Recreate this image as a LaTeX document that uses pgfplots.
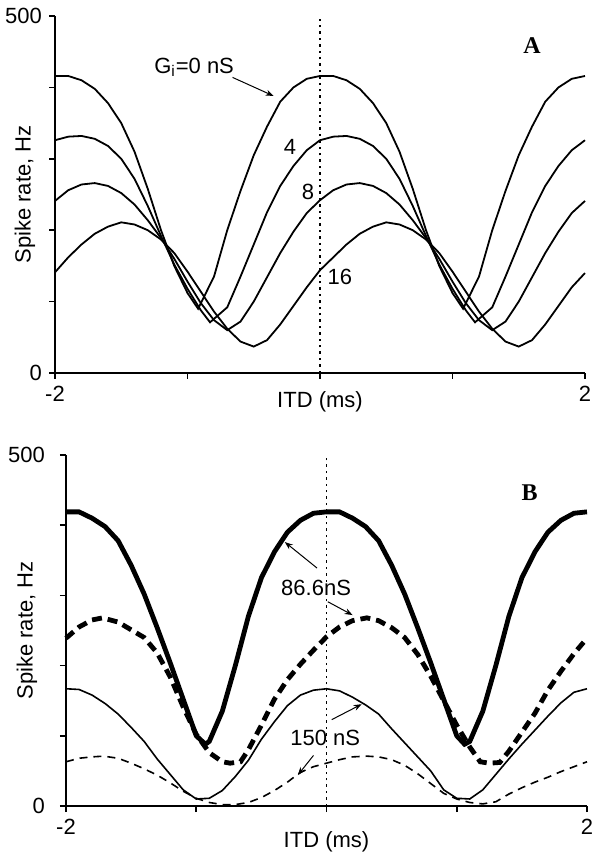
\documentclass[border=0pt]{standalone}
\usepackage{fontspec}
\setmainfont{Liberation Sans}
\newfontfamily\timesfont{Liberation Serif}
\usepackage{pgfplots}
\pgfplotsset{compat=1.18}
\usetikzlibrary{arrows.meta}
\pgfplotsset{
 myax/.style={
  scale only axis,
  xmin=-2, xmax=2, ymin=0, ymax=500,
  axis x line*=bottom, axis y line*=left,
  axis line style={line width=0.8pt, black},
  xtick={-2,-1,0,1,2}, xticklabels={-2,,,,2},
  ytick={0,100,200,300,400,500}, yticklabels={0,,,,,500},
  tick align=outside, major tick length=3pt,
  every tick/.style={black, line width=0.8pt},
  tick label style={font=\fontsize{11}{13}\selectfont},
  clip=false,
  cycle list={{black}},
  every axis plot/.append style={black, no markers, line width=0.9pt},
 },
}
\tikzset{
 ann/.style={font=\fontsize{11}{13}\selectfont},
 arr/.style={-{Stealth[length=4pt,width=3pt]}, line width=0.5pt},
}
\begin{document}
\begin{tikzpicture}
\useasboundingbox (0,0) rectangle (301pt,431.5pt);
% ---------------- Panel A ----------------
\begin{axis}[myax, at={(27.5pt,245pt)}, anchor=south west, width=265pt, height=178.5pt,
  xlabel={ITD (ms)}, ylabel={Spike rate, Hz},
  every axis x label/.style={at={(axis description cs:0.5,0)}, anchor=center, yshift=-14.5pt, font=\fontsize{11}{13}\selectfont},
  every axis y label/.style={at={(axis description cs:-0.0566,0.5)}, rotate=90, anchor=center, font=\fontsize{11}{13}\selectfont}]
% G_i = 0 nS
\addplot coordinates {(-2.0,416)(-1.9,416)(-1.8,410)(-1.7,398)(-1.6,378)(-1.5,350)(-1.4,310)(-1.3,258)(-1.2,200)(-1.1,150)(-1.0,112)(-0.92,90)(-0.8,135)(-0.7,200)(-0.6,255)(-0.5,305)(-0.4,345)(-0.3,380)(-0.2,400)(-0.1,412)(0.0,416)
 (0.1,416)(0.2,410)(0.3,398)(0.4,378)(0.5,350)(0.6,310)(0.7,258)(0.8,200)(0.9,150)(1.0,112)(1.08,90)(1.2,135)(1.3,200)(1.4,255)(1.5,305)(1.6,345)(1.7,380)(1.8,400)(1.9,412)(2.0,416)};
% G_i = 4 nS
\addplot coordinates {(-2.0,326)(-1.9,331)(-1.8,332)(-1.7,328)(-1.6,318)(-1.5,300)(-1.4,272)(-1.3,234)(-1.2,192)(-1.1,152)(-1.0,118)(-0.9,88)(-0.83,71)(-0.7,92)(-0.6,135)(-0.5,180)(-0.4,225)(-0.3,262)(-0.2,290)(-0.1,312)(0.0,326)
 (0.1,331)(0.2,332)(0.3,328)(0.4,318)(0.5,300)(0.6,272)(0.7,234)(0.8,192)(0.9,152)(1.0,118)(1.1,88)(1.17,71)(1.3,92)(1.4,135)(1.5,180)(1.6,225)(1.7,262)(1.8,290)(1.9,312)(2.0,326)};
% G_i = 8 nS
\addplot coordinates {(-2.0,241)(-1.9,256)(-1.8,264)(-1.7,266)(-1.6,262)(-1.5,252)(-1.4,236)(-1.3,214)(-1.2,189)(-1.1,160)(-1.0,128)(-0.9,98)(-0.8,74)(-0.7,60)(-0.6,72)(-0.5,100)(-0.4,134)(-0.3,168)(-0.2,198)(-0.1,224)(0.0,242)
 (0.1,256)(0.2,264)(0.3,266)(0.4,262)(0.5,252)(0.6,236)(0.7,214)(0.8,189)(0.9,160)(1.0,128)(1.1,98)(1.2,74)(1.3,60)(1.4,72)(1.5,100)(1.6,134)(1.7,168)(1.8,198)(1.9,224)(2.0,241)};
% G_i = 16 nS
\addplot coordinates {(-2.0,141)(-1.9,162)(-1.8,180)(-1.7,195)(-1.6,205)(-1.5,211)(-1.4,208)(-1.3,200)(-1.2,187)(-1.1,168)(-1.0,142)(-0.9,114)(-0.8,86)(-0.7,62)(-0.6,44)(-0.5,37)(-0.4,46)(-0.3,68)(-0.2,94)(-0.1,120)(0.0,144)
 (0.1,162)(0.2,180)(0.3,195)(0.4,205)(0.5,211)(0.6,208)(0.7,200)(0.8,187)(0.9,168)(1.0,142)(1.1,114)(1.2,86)(1.3,62)(1.4,44)(1.5,37)(1.6,46)(1.7,68)(1.8,94)(1.9,120)(2.0,140)};
% dotted zero line
\addplot[line width=0.7pt, dash pattern=on 1.2pt off 2pt] coordinates {(0,0)(0,500)};
\node[ann] at (axis cs:-0.95,428) {G\textsubscript{i}=0 nS};
\draw[arr] (axis cs:-0.66,414) -- (axis cs:-0.35,388);
\node[ann] at (axis cs:-0.226,316) {4};
\node[ann] at (axis cs:-0.09,253) {8};
\node[ann] at (axis cs:0.15,134) {16};
\node[font=\timesfont\bfseries\fontsize{12}{14}\selectfont] at (axis cs:1.6,459) {A};
\end{axis}
% ---------------- Panel B ----------------
\begin{axis}[myax, at={(33pt,28.5pt)}, anchor=south west, width=260.5pt, height=175.5pt,
  xlabel={ITD (ms)}, ylabel={Spike rate, Hz},
  yticklabel style={xshift=-4pt},
  every axis x label/.style={at={(axis description cs:0.5,0)}, anchor=center, yshift=-18pt, font=\fontsize{11}{13}\selectfont},
  every axis y label/.style={at={(axis description cs:-0.0749,0.5)}, rotate=90, anchor=center, font=\fontsize{11}{13}\selectfont}]
% thick solid (control)
\addplot[line width=2.4pt] coordinates {(-2.0,419)(-1.9,419)(-1.8,410)(-1.7,398)(-1.6,378)(-1.5,343)(-1.4,302)(-1.3,254)(-1.2,204)(-1.1,152)(-1.0,100)(-0.93,88)(-0.9,92)(-0.8,135)(-0.7,200)(-0.6,270)(-0.5,325)(-0.4,362)(-0.3,390)(-0.2,407)(-0.1,417)(0.0,419)
 (0.1,419)(0.2,410)(0.3,398)(0.4,378)(0.5,343)(0.6,302)(0.7,254)(0.8,204)(0.9,152)(1.0,100)(1.06,88)(1.1,92)(1.2,135)(1.3,200)(1.4,270)(1.5,325)(1.6,362)(1.7,390)(1.8,407)(1.9,417)(2.0,419)};
% thick dashed (86.6 nS)
\addplot[line width=2.4pt, dash pattern=on 5pt off 3pt] coordinates {(-2.0,239)(-1.9,255)(-1.8,265)(-1.72,268)(-1.6,262)(-1.5,251)(-1.4,240)(-1.3,218)(-1.2,184)(-1.1,141)(-1.0,102)(-0.9,76)(-0.8,63)(-0.74,61)(-0.66,63)(-0.6,80)(-0.5,115)(-0.4,152)(-0.3,180)(-0.2,202)(-0.1,222)(0.0,241)
 (0.1,255)(0.2,264)(0.31,268)(0.4,264)(0.5,254)(0.6,240)(0.7,216)(0.8,185)(0.9,150)(1.0,115)(1.1,84)(1.18,63)(1.25,61)(1.33,62)(1.4,78)(1.5,105)(1.6,132)(1.7,165)(1.8,192)(1.9,217)(2.0,239)};
% thin solid
\addplot[line width=0.8pt] coordinates {(-2.0,167)(-1.9,166)(-1.8,158)(-1.7,146)(-1.6,131)(-1.5,112)(-1.4,92)(-1.3,67)(-1.2,45)(-1.1,23)(-1.0,10)(-0.9,11)(-0.8,22)(-0.7,42)(-0.6,65)(-0.5,95)(-0.4,120)(-0.3,143)(-0.2,158)(-0.1,165)(0.0,167)
 (0.1,164)(0.2,155)(0.3,144)(0.4,131)(0.5,110)(0.6,90)(0.7,70)(0.8,50)(0.9,23)(1.0,11)(1.1,10)(1.2,23)(1.3,45)(1.4,67)(1.5,88)(1.6,108)(1.7,128)(1.8,147)(1.9,162)(2.0,167)};
% thin dashed
\addplot[line width=0.8pt, dash pattern=on 4pt off 3pt] coordinates {(-2.0,63)(-1.9,68)(-1.8,70)(-1.71,71)(-1.6,68)(-1.5,61)(-1.4,53)(-1.3,44)(-1.2,33)(-1.1,21)(-1.0,11)(-0.9,5)(-0.8,2)(-0.7,2)(-0.6,5)(-0.5,12)(-0.4,22)(-0.3,34)(-0.2,48)(-0.1,56)(0.0,61)
 (0.1,66)(0.2,70)(0.31,71)(0.4,70)(0.5,66)(0.6,58)(0.7,46)(0.8,32)(0.9,18)(1.0,10)(1.1,5)(1.2,3)(1.3,6)(1.4,17)(1.5,26)(1.6,34)(1.7,41)(1.8,49)(1.9,56)(2.0,63)};
% dotted zero line
\addplot[line width=0.7pt, dash pattern=on 1.2pt off 2pt] coordinates {(0,0)(0,500)};
\node[ann] at (axis cs:-0.08,310) {86.6nS};
\draw[arr] (axis cs:-0.073,339) -- (axis cs:-0.32,376);
\draw[arr] (axis cs:0.01,291) -- (axis cs:0.2,272);
\node[ann] at (axis cs:-0.01,97) {150 nS};
\draw[arr] (axis cs:0.04,123) -- (axis cs:0.27,145);
\draw[arr] (axis cs:-0.10,72) -- (axis cs:-0.22,44);
\node[font=\timesfont\bfseries\fontsize{12}{14}\selectfont] at (axis cs:1.56,446) {B};
\end{axis}
\end{tikzpicture}
\end{document}
